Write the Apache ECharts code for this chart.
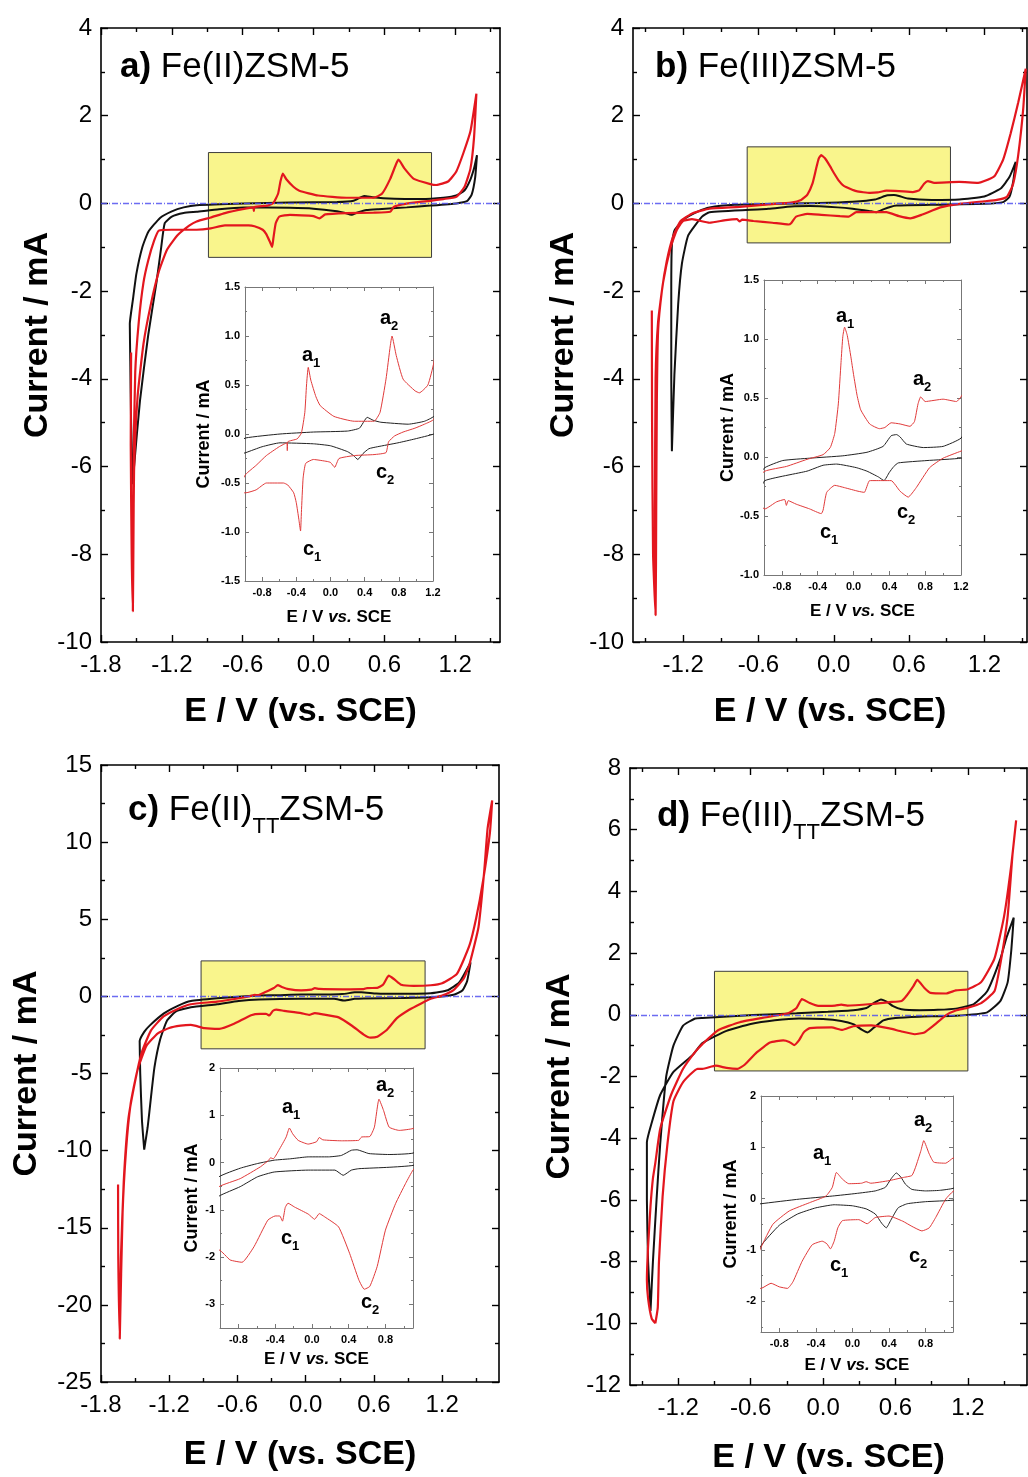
<!DOCTYPE html>
<html>
<head>
<meta charset="utf-8">
<title>Fe-ZSM-5 cyclic voltammograms</title>
<script src="https://cdn.jsdelivr.net/npm/echarts@6/dist/echarts.min.js"></script>
<style>
  html, body { margin: 0; padding: 0; background: #fff; }
  #cv { width: 1028px; height: 1477px; }
</style>
</head>
<body>
<div id="cv"></div>
<script>
// ---- data: [E / V vs SCE, I / mA], each loop split in anodic and cathodic branch ----

// a) Fe(II)ZSM-5
const aRedAnodic = [[-1.545, -3.4], [-1.548, -5.5], [-1.54, -8.0], [-1.53, -9.3], [-1.525, -7.6], [-1.52, -6.1], [-1.49, -4.4], [-1.44, -3.2], [-1.38, -2.33], [-1.31, -1.55], [-1.24, -1.05], [-1.15, -0.72], [-1.05, -0.5], [-0.99, -0.41], [-0.87, -0.32], [-0.75, -0.22], [-0.6, -0.13], [-0.51, -0.09], [-0.505, -0.17], [-0.5, -0.08], [-0.39, -0.05], [-0.34, 0.01], [-0.3, 0.22], [-0.28, 0.5], [-0.26, 0.68], [-0.23, 0.55], [-0.17, 0.38], [-0.12, 0.29], [0.04, 0.18], [0.28, 0.13], [0.51, 0.13], [0.58, 0.22], [0.65, 0.56], [0.7, 0.9], [0.72, 1.0], [0.77, 0.8], [0.85, 0.56], [0.99, 0.44], [1.04, 0.42], [1.14, 0.5], [1.21, 0.73], [1.27, 1.15], [1.33, 1.65], [1.38, 2.5]]
const aRedCathodic = [[1.38, 2.5], [1.36, 1.5], [1.33, 0.8], [1.28, 0.38], [1.21, 0.15], [1.1, 0.1], [0.99, 0.06], [0.85, 0.02], [0.75, -0.02], [0.68, -0.08], [0.65, -0.19], [0.51, -0.21], [0.28, -0.22], [0.1, -0.25], [0.05, -0.34], [0.0, -0.29], [-0.04, -0.28], [-0.2, -0.26], [-0.29, -0.3], [-0.32, -0.45], [-0.34, -0.8], [-0.35, -0.99], [-0.37, -0.87], [-0.4, -0.7], [-0.43, -0.6], [-0.5, -0.52], [-0.55, -0.5], [-0.75, -0.5], [-0.87, -0.57], [-0.99, -0.6], [-1.2, -0.6], [-1.31, -0.62], [-1.35, -0.85], [-1.4, -1.3], [-1.44, -1.8], [-1.48, -2.7], [-1.51, -3.85], [-1.525, -6.0], [-1.53, -9.3]]
const aBlackAnodic = [[-1.53, -6.4], [-1.545, -5.0], [-1.552, -3.6], [-1.556, -2.75], [-1.53, -2.2], [-1.5, -1.6], [-1.45, -1.0], [-1.4, -0.65], [-1.3, -0.33], [-1.2, -0.18], [-1.1, -0.09], [-0.99, -0.04], [-0.59, 0.0], [-0.2, 0.02], [0.2, 0.03], [0.34, 0.06], [0.43, 0.17], [0.5, 0.14], [0.59, 0.12], [0.91, 0.1], [1.1, 0.13], [1.21, 0.18], [1.28, 0.3], [1.33, 0.55], [1.36, 0.8], [1.385, 1.1]]
const aBlackCathodic = [[1.385, 1.1], [1.37, 0.6], [1.34, 0.2], [1.3, 0.05], [1.21, 0.0], [0.99, -0.05], [0.79, -0.09], [0.55, -0.13], [0.45, -0.15], [0.38, -0.2], [0.32, -0.26], [0.27, -0.22], [0.2, -0.18], [0.0, -0.12], [-0.2, -0.1], [-0.59, -0.09], [-0.8, -0.13], [-0.99, -0.19], [-1.1, -0.22], [-1.2, -0.3], [-1.26, -0.45], [-1.29, -1.0], [-1.33, -1.8], [-1.4, -3.0], [-1.47, -4.5], [-1.52, -6.0], [-1.53, -6.4]]

// b) Fe(III)ZSM-5
const bRedAnodic = [[-1.45, -2.44], [-1.448, -5.0], [-1.44, -8.0], [-1.42, -9.39], [-1.415, -7.0], [-1.41, -4.5], [-1.4, -2.9], [-1.37, -2.0], [-1.33, -1.3], [-1.28, -0.75], [-1.22, -0.4], [-1.12, -0.22], [-0.99, -0.12], [-0.75, -0.08], [-0.52, -0.02], [-0.34, 0.02], [-0.26, 0.08], [-0.21, 0.2], [-0.17, 0.45], [-0.14, 0.8], [-0.12, 1.02], [-0.1, 1.1], [-0.07, 1.03], [-0.03, 0.85], [0.0, 0.7], [0.04, 0.52], [0.08, 0.4], [0.18, 0.28], [0.29, 0.24], [0.35, 0.25], [0.42, 0.29], [0.52, 0.28], [0.63, 0.26], [0.68, 0.3], [0.72, 0.45], [0.75, 0.51], [0.8, 0.47], [1.0, 0.49], [1.15, 0.47], [1.2, 0.51], [1.28, 0.62], [1.35, 1.0], [1.41, 1.6], [1.47, 2.3], [1.53, 3.07]]
const bRedCathodic = [[1.53, 3.07], [1.51, 2.16], [1.47, 1.1], [1.43, 0.45], [1.38, 0.15], [1.3, 0.08], [1.2, 0.05], [1.0, -0.01], [0.85, -0.09], [0.7, -0.26], [0.61, -0.34], [0.52, -0.29], [0.42, -0.2], [0.33, -0.2], [0.18, -0.2], [0.12, -0.3], [0.05, -0.29], [-0.1, -0.26], [-0.21, -0.24], [-0.3, -0.3], [-0.34, -0.45], [-0.36, -0.48], [-0.49, -0.44], [-0.64, -0.4], [-0.73, -0.37], [-0.75, -0.41], [-0.77, -0.36], [-0.86, -0.38], [-0.99, -0.44], [-1.13, -0.36], [-1.2, -0.4], [-1.25, -0.6], [-1.3, -1.0], [-1.36, -1.8], [-1.4, -2.7], [-1.42, -4.0], [-1.425, -7.0], [-1.42, -9.39]]
const bBlackAnodic = [[-1.29, -5.65], [-1.295, -4.0], [-1.295, -2.0], [-1.29, -0.94], [-1.27, -0.62], [-1.19, -0.35], [-1.08, -0.18], [-0.99, -0.09], [-0.79, -0.03], [-0.49, -0.01], [-0.12, 0.01], [0.15, 0.04], [0.33, 0.09], [0.42, 0.18], [0.48, 0.19], [0.52, 0.17], [0.59, 0.11], [0.78, 0.08], [1.0, 0.09], [1.2, 0.16], [1.33, 0.34], [1.4, 0.6], [1.45, 0.95]]
const bBlackCathodic = [[1.45, 0.95], [1.43, 0.5], [1.4, 0.15], [1.35, 0.03], [1.2, -0.01], [0.82, -0.03], [0.5, -0.05], [0.45, -0.08], [0.4, -0.13], [0.34, -0.2], [0.28, -0.17], [0.15, -0.12], [0.03, -0.09], [-0.19, -0.06], [-0.34, -0.07], [-0.52, -0.12], [-0.99, -0.2], [-1.05, -0.3], [-1.16, -0.73], [-1.21, -1.37], [-1.24, -2.3], [-1.27, -3.9], [-1.29, -5.65]]

// c) Fe(II)TT ZSM-5
const cRedAnodic = [[-1.65, -12.2], [-1.648, -17.0], [-1.635, -22.2], [-1.625, -17.0], [-1.6, -12.0], [-1.56, -8.0], [-1.5, -5.5], [-1.44, -3.6], [-1.36, -2.2], [-1.25, -1.3], [-1.12, -0.8], [-1.01, -0.51], [-0.78, -0.34], [-0.56, -0.09], [-0.47, 0.05], [-0.45, 0.1], [-0.42, 0.08], [-0.36, 0.26], [-0.28, 0.54], [-0.245, 0.73], [-0.21, 0.61], [-0.15, 0.47], [-0.04, 0.39], [0.05, 0.44], [0.08, 0.53], [0.12, 0.48], [0.32, 0.46], [0.51, 0.47], [0.54, 0.54], [0.63, 0.55], [0.68, 0.75], [0.73, 1.34], [0.78, 1.1], [0.84, 0.75], [0.95, 0.68], [1.1, 0.72], [1.2, 0.85], [1.33, 1.46], [1.44, 3.3], [1.5, 5.1], [1.56, 7.5], [1.62, 10.6], [1.64, 12.7]]
const cRedCathodic = [[1.64, 12.7], [1.6, 10.9], [1.57, 8.1], [1.52, 4.5], [1.44, 2.07], [1.39, 1.16], [1.3, 0.4], [1.2, 0.05], [1.1, -0.16], [1.02, -0.44], [0.91, -0.87], [0.8, -1.43], [0.71, -2.2], [0.63, -2.62], [0.57, -2.68], [0.51, -2.48], [0.41, -1.92], [0.29, -1.36], [0.14, -1.15], [0.08, -1.08], [0.03, -1.2], [-0.04, -1.09], [-0.19, -0.94], [-0.26, -0.86], [-0.29, -0.95], [-0.32, -1.24], [-0.35, -1.13], [-0.4, -1.13], [-0.48, -1.22], [-0.63, -1.78], [-0.76, -2.11], [-0.89, -2.06], [-1.01, -1.85], [-1.1, -1.9], [-1.2, -2.05], [-1.3, -2.4], [-1.4, -3.2], [-1.48, -4.8], [-1.54, -7.0], [-1.58, -10.0], [-1.61, -14.0], [-1.635, -22.2]]
const cBlackAnodic = [[-1.42, -9.94], [-1.44, -8.0], [-1.455, -5.0], [-1.46, -2.9], [-1.42, -2.3], [-1.37, -1.88], [-1.25, -1.12], [-1.12, -0.6], [-1.01, -0.3], [-0.78, -0.12], [-0.59, -0.02], [-0.41, 0.05], [-0.23, 0.08], [-0.04, 0.12], [0.18, 0.12], [0.32, 0.15], [0.43, 0.26], [0.49, 0.27], [0.62, 0.19], [0.84, 0.17], [1.1, 0.2], [1.25, 0.4], [1.35, 0.9], [1.45, 2.2]]
const cBlackCathodic = [[1.45, 2.2], [1.42, 1.0], [1.38, 0.4], [1.3, 0.1], [1.1, -0.06], [0.84, -0.1], [0.51, -0.13], [0.43, -0.16], [0.34, -0.27], [0.25, -0.16], [-0.04, -0.16], [-0.41, -0.2], [-0.59, -0.3], [-0.78, -0.51], [-1.01, -0.71], [-1.14, -0.97], [-1.22, -1.58], [-1.28, -2.8], [-1.33, -4.6], [-1.36, -6.5], [-1.39, -8.5], [-1.42, -9.94]]

// d) Fe(III)TT ZSM-5
const dRedAnodic = [[-1.39, -10.0], [-1.42, -9.85], [-1.45, -9.2], [-1.46, -8.6], [-1.45, -7.5], [-1.43, -6.2], [-1.41, -5.3], [-1.39, -4.8], [-1.35, -3.7], [-1.26, -2.6], [-1.16, -1.75], [-1.06, -1.2], [-1.0, -0.95], [-0.87, -0.5], [-0.69, -0.24], [-0.47, -0.08], [-0.29, 0.05], [-0.22, 0.22], [-0.175, 0.51], [-0.11, 0.38], [-0.04, 0.29], [0.1, 0.3], [0.15, 0.33], [0.2, 0.3], [0.4, 0.35], [0.55, 0.41], [0.65, 0.45], [0.69, 0.61], [0.75, 0.94], [0.78, 1.13], [0.84, 0.87], [0.89, 0.71], [1.02, 0.69], [1.1, 0.79], [1.2, 0.83], [1.31, 1.06], [1.42, 1.82], [1.5, 3.19], [1.56, 4.86], [1.6, 6.3]]
const dRedCathodic = [[1.6, 6.3], [1.57, 5.2], [1.53, 3.2], [1.47, 1.67], [1.42, 0.76], [1.31, 0.38], [1.2, 0.23], [1.1, 0.14], [1.02, -0.01], [0.91, -0.37], [0.84, -0.57], [0.76, -0.63], [0.65, -0.54], [0.55, -0.44], [0.4, -0.34], [0.25, -0.37], [0.16, -0.49], [0.07, -0.41], [-0.11, -0.43], [-0.16, -0.57], [-0.2, -0.83], [-0.24, -0.98], [-0.28, -0.88], [-0.33, -0.83], [-0.44, -0.9], [-0.55, -1.22], [-0.65, -1.62], [-0.71, -1.75], [-0.8, -1.72], [-0.89, -1.65], [-1.0, -1.75], [-1.04, -1.75], [-1.16, -2.18], [-1.24, -2.8], [-1.29, -4.2], [-1.33, -5.9], [-1.36, -8.0], [-1.37, -9.5], [-1.39, -10.0]]
const dBlackAnodic = [[-1.43, -9.6], [-1.41, -8.0], [-1.38, -6.0], [-1.35, -4.2], [-1.3, -2.0], [-1.24, -1.0], [-1.16, -0.35], [-1.06, -0.12], [-1.0, -0.1], [-0.58, -0.01], [-0.22, 0.05], [0.04, 0.1], [0.25, 0.15], [0.36, 0.22], [0.42, 0.38], [0.48, 0.5], [0.53, 0.42], [0.58, 0.28], [0.65, 0.18], [0.8, 0.15], [0.95, 0.16], [1.1, 0.2], [1.25, 0.35], [1.36, 0.76], [1.47, 1.82], [1.52, 2.5], [1.58, 3.15]]
const dBlackCathodic = [[1.58, 3.15], [1.56, 2.1], [1.53, 1.06], [1.47, 0.45], [1.36, 0.08], [1.1, -0.03], [0.8, -0.06], [0.6, -0.1], [0.5, -0.18], [0.42, -0.42], [0.37, -0.57], [0.32, -0.48], [0.25, -0.3], [0.15, -0.2], [0.0, -0.14], [-0.2, -0.12], [-0.4, -0.18], [-0.6, -0.3], [-0.8, -0.52], [-1.0, -0.92], [-1.08, -1.3], [-1.24, -1.85], [-1.35, -2.6], [-1.42, -3.5], [-1.46, -4.13], [-1.46, -6.0], [-1.45, -8.0], [-1.43, -9.6]]

// highlighted window of each main plot: [E1, I1, E2, I2]
const aWindow = [-0.89, 1.16, 1.0, -1.23]
const bWindow = [-0.69, 1.29, 0.93, -0.9]
const cWindow = [-0.92, 2.3, 1.05, -3.4]
const dWindow = [-0.9, 1.41, 1.2, -1.82]

// tick values
const xTicksLong = [-1.8, -1.2, -0.6, 0, 0.6, 1.2]
const xTicksShort = [-1.2, -0.6, 0, 0.6, 1.2]
const xMinorMain = [-1.5, -0.9, -0.3, 0.3, 0.9, 1.5]
const yTicksAB = [-10, -8, -6, -4, -2, 0, 2, 4]
const yMinorAB = [-9, -7, -5, -3, -1, 1, 3]
const yTicksC = [-25, -20, -15, -10, -5, 0, 5, 10, 15]
const yMinorC = [-22.5, -17.5, -12.5, -7.5, -2.5, 2.5, 7.5, 12.5]
const yTicksD = [-12, -10, -8, -6, -4, -2, 0, 2, 4, 6, 8]
const yMinorD = [-11, -9, -7, -5, -3, -1, 1, 3, 5, 7]
const insXTicksAB = [-0.8, -0.4, 0, 0.4, 0.8, 1.2]
const insXTicksCD = [-0.8, -0.4, 0, 0.4, 0.8]
const insXMinor = [-0.6, -0.2, 0.2, 0.6, 1.0]
const insYTicksA = [-1.5, -1, -0.5, 0, 0.5, 1, 1.5]
const insYMinorA = [-1.25, -0.75, -0.25, 0.25, 0.75, 1.25]
const insYTicksB = [-1, -0.5, 0, 0.5, 1, 1.5]
const insYMinorB = [-0.75, -0.25, 0.25, 0.75, 1.25]
const insYTicksC = [-3, -2, -1, 0, 1, 2]
const insYTicksD = [-2, -1, 0, 1, 2]
const insYMinorCD = [-2.5, -1.5, -0.5, 0.5, 1.5]

// ---- chart ----
const FONT = '"Liberation Sans", Arial, Helvetica, sans-serif'
const RED = '#e3161e'
const BLACK = '#111111'
const fmt1 = v => v.toFixed(1)
const fmt0 = v => String(v)

const grids = []
const xAxes = []
const yAxes = []
const series = []
const graphics = []

const mainStyle = {
  white: false, color: '#000', lw: 1.6, tw: 1.4, major: 7, minor: 4,
  labelSize: 24, labelWeight: 'normal', xFmt: fmt1, yFmt: fmt0, xMargin: 11, yMargin: 9,
  xName: 'E / V (vs. SCE)', yName: 'Current / mA',
  xNameStyle: { color: '#000', fontFamily: FONT, fontSize: 34, fontWeight: 'bold' },
  yNameStyle: { color: '#000', fontFamily: FONT, fontSize: 34, fontWeight: 'bold' }
}
const insetStyle = {
  white: true, color: '#777', lw: 1, tw: 1, major: 4, minor: 2,
  labelSize: 11, labelWeight: 'bold', xFmt: fmt1, xMargin: 6, yMargin: 5,
  xName: 'E / V {i|vs.} SCE', yName: 'Current / mA',
  xNameStyle: { color: '#000', fontFamily: FONT, fontSize: 17, fontWeight: 'bold', rich: { i: { color: '#000', fontFamily: FONT, fontSize: 17, fontWeight: 'bold', fontStyle: 'italic' } } },
  yNameStyle: { color: '#000', fontFamily: FONT, fontSize: 18, fontWeight: 'bold' }
}

// one framed box: 4 axes for major ticks (+labels) and 4 for minor ticks
function addFrame (f) {
  const gi = grids.length
  grids.push({ left: f.left, top: f.top, width: f.width, height: f.height, show: f.white, backgroundColor: '#fff', borderWidth: 0, containLabel: false, outerBoundsMode: 'none' })
  const line = { show: true, onZero: false, lineStyle: { color: f.color, width: f.lw } }
  const noLine = { show: false, onZero: false }
  const noLabel = { show: false }
  const tick = (vals, len) => ({ show: true, inside: true, length: len, customValues: vals, lineStyle: { color: f.color, width: f.tw } })
  const label = (vals, fmt, margin) => ({ show: true, customValues: vals, formatter: fmt, margin: margin, color: '#000', fontFamily: FONT, fontSize: f.labelSize, fontWeight: f.labelWeight })
  const base = { type: 'value', gridIndex: gi, splitLine: { show: false }, silent: true }
  const xb = Object.assign({ min: f.xmin, max: f.xmax }, base)
  const yb = Object.assign({ min: f.ymin, max: f.ymax }, base)
  const xi = xAxes.length
  const yi = yAxes.length
  xAxes.push(Object.assign({}, xb, { position: 'bottom', axisLine: line, axisTick: tick(f.xTicks, f.major), axisLabel: label(f.xTicks, f.xFmt, f.xMargin), name: f.xName, nameLocation: 'middle', nameGap: f.xGap, nameTextStyle: f.xNameStyle, nameMoveOverlap: false }))
  xAxes.push(Object.assign({}, xb, { position: 'bottom', axisLine: noLine, axisTick: tick(f.xMinor, f.minor), axisLabel: noLabel }))
  xAxes.push(Object.assign({}, xb, { position: 'top', axisLine: line, axisTick: tick(f.xTicks, f.major), axisLabel: noLabel }))
  xAxes.push(Object.assign({}, xb, { position: 'top', axisLine: noLine, axisTick: tick(f.xMinor, f.minor), axisLabel: noLabel }))
  yAxes.push(Object.assign({}, yb, { position: 'left', axisLine: line, axisTick: tick(f.yTicks, f.major), axisLabel: label(f.yTicks, f.yFmt, f.yMargin), name: f.yName, nameLocation: 'middle', nameGap: f.yGap, nameTextStyle: f.yNameStyle, nameMoveOverlap: false }))
  yAxes.push(Object.assign({}, yb, { position: 'left', axisLine: noLine, axisTick: tick(f.yMinor, f.minor), axisLabel: noLabel }))
  yAxes.push(Object.assign({}, yb, { position: 'right', axisLine: line, axisTick: tick(f.yTicks, f.major), axisLabel: noLabel }))
  yAxes.push(Object.assign({}, yb, { position: 'right', axisLine: noLine, axisTick: tick(f.yMinor, f.minor), axisLabel: noLabel }))
  return { xi: xi, yi: yi }
}

function addCurve (ax, data, color, width, z) {
  series.push({
    type: 'line', xAxisIndex: ax.xi, yAxisIndex: ax.yi, data: data,
    symbol: 'none', showSymbol: false, smooth: 0.15, clip: true, z: z,
    silent: true, animation: false, lineStyle: { color: color, width: width }
  })
}

function addPanel (p) {
  const m = addFrame(Object.assign({}, mainStyle, p.main))
  const w = p.window
  series.push({
    type: 'line', xAxisIndex: m.xi, yAxisIndex: m.yi, data: [], z: 1, silent: true,
    markArea: { silent: true, itemStyle: { color: '#f9f58c', borderColor: '#3c3c3c', borderWidth: 1 }, data: [[{ coord: [w[0], w[1]] }, { coord: [w[2], w[3]] }]] },
    markLine: { silent: true, symbol: ['none', 'none'], label: { show: false }, lineStyle: { color: '#5252f0', width: 1.3, opacity: 0.85, type: [6, 2, 1, 2] }, data: [{ yAxis: 0 }] }
  })
  addCurve(m, p.black, BLACK, 2, 3)
  addCurve(m, p.red, RED, 2.2, 4)
  const s = addFrame(Object.assign({}, insetStyle, p.inset))
  addCurve(s, p.black, '#222', 1, 5)
  addCurve(s, p.red, '#e03a3a', 1, 6)
}

addPanel({
  main: { left: 101, top: 28, width: 399, height: 614, xmin: -1.8, xmax: 1.58, ymin: -10, ymax: 4, xTicks: xTicksLong, xMinor: xMinorMain, yTicks: yTicksAB, yMinor: yMinorAB, xGap: 53, yGap: 46 },
  inset: { left: 245, top: 287, width: 188, height: 294, xmin: -1.0, xmax: 1.2, ymin: -1.5, ymax: 1.5, xTicks: insXTicksAB, xMinor: insXMinor, yTicks: insYTicksA, yMinor: insYMinorA, yFmt: fmt1, xGap: 28, yGap: 32 },
  window: aWindow,
  red: aRedAnodic.concat(aRedCathodic),
  black: aBlackAnodic.concat(aBlackCathodic)
})
addPanel({
  main: { left: 633, top: 28, width: 394, height: 614, xmin: -1.6, xmax: 1.54, ymin: -10, ymax: 4, xTicks: xTicksShort, xMinor: xMinorMain, yTicks: yTicksAB, yMinor: yMinorAB, xGap: 53, yGap: 52 },
  inset: { left: 764, top: 280, width: 197, height: 295, xmin: -1.0, xmax: 1.2, ymin: -1.0, ymax: 1.5, xTicks: insXTicksAB, xMinor: insXMinor, yTicks: insYTicksB, yMinor: insYMinorB, yFmt: fmt1, xGap: 28, yGap: 27 },
  window: bWindow,
  red: bRedAnodic.concat(bRedCathodic),
  black: bBlackAnodic.concat(bBlackCathodic)
})
addPanel({
  main: { left: 101, top: 765, width: 398, height: 617, xmin: -1.8, xmax: 1.7, ymin: -25, ymax: 15, xTicks: xTicksLong, xMinor: xMinorMain, yTicks: yTicksC, yMinor: yMinorC, xGap: 56, yGap: 57 },
  inset: { left: 220, top: 1068, width: 193, height: 260, xmin: -1.0, xmax: 1.1, ymin: -3.5, ymax: 2, xTicks: insXTicksCD, xMinor: insXMinor, yTicks: insYTicksC, yMinor: insYMinorCD, yFmt: fmt0, xGap: 23, yGap: 19 },
  window: cWindow,
  red: cRedAnodic.concat(cRedCathodic),
  black: cBlackAnodic.concat(cBlackCathodic)
})
addPanel({
  main: { left: 630, top: 768, width: 397, height: 617, xmin: -1.6, xmax: 1.69, ymin: -12, ymax: 8, xTicks: xTicksShort, xMinor: xMinorMain, yTicks: yTicksD, yMinor: yMinorD, xGap: 56, yGap: 53 },
  inset: { left: 761, top: 1096, width: 192, height: 236, xmin: -1.0, xmax: 1.1, ymin: -2.6, ymax: 2, xTicks: insXTicksCD, xMinor: insXMinor, yTicks: insYTicksD, yMinor: insYMinorCD, yFmt: fmt0, xGap: 25, yGap: 21 },
  window: dWindow,
  red: dRedAnodic.concat(dRedCathodic),
  black: dBlackAnodic.concat(dBlackCathodic)
})

// panel titles
const titleRich = {
  b: { fontFamily: FONT, fontSize: 35, fontWeight: 'bold', lineHeight: 56, fill: '#000' },
  r: { fontFamily: FONT, fontSize: 35, fontWeight: 'normal', lineHeight: 56, fill: '#000' },
  s: { fontFamily: FONT, fontSize: 22, fontWeight: 'normal', lineHeight: 22, verticalAlign: 'bottom', fill: '#000' }
}
function addText (x, y, text, rich, size) {
  graphics.push({
    type: 'text', x: x, y: y, silent: true, z: 100,
    style: { text: text, rich: rich, fontFamily: FONT, fontSize: size, fill: '#000', align: 'left', verticalAlign: 'middle', textAlign: 'left', textVerticalAlign: 'middle' }
  })
}
addText(120, 67, '{b|a)} {r|Fe(II)ZSM-5}', titleRich, 35)
addText(655, 67, '{b|b)} {r|Fe(III)ZSM-5}', titleRich, 35)
addText(128, 810, '{b|c)} {r|Fe(II)}{s|TT}{r|ZSM-5}', titleRich, 35)
addText(657, 816, '{b|d)} {r|Fe(III)}{s|TT}{r|ZSM-5}', titleRich, 35)

// peak labels in the insets
const peakRich = {
  m: { fontFamily: FONT, fontSize: 20, fontWeight: 'bold', lineHeight: 30, fill: '#000' },
  s: { fontFamily: FONT, fontSize: 13, fontWeight: 'bold', lineHeight: 13, verticalAlign: 'bottom', fill: '#000' }
}
const peakPlaces = [
  ['a', '1', 302, 355], ['a', '2', 380, 318], ['c', '1', 303, 549], ['c', '2', 376, 472],
  ['a', '1', 836, 316], ['a', '2', 913, 379], ['c', '1', 820, 532], ['c', '2', 897, 512],
  ['a', '1', 282, 1107], ['a', '2', 376, 1085], ['c', '1', 281, 1238], ['c', '2', 361, 1302],
  ['a', '1', 813, 1153], ['a', '2', 914, 1120], ['c', '1', 830, 1265], ['c', '2', 909, 1256]
]
peakPlaces.forEach(function (p) {
  addText(p[2], p[3], '{m|' + p[0] + '}{s|' + p[1] + '}', peakRich, 20)
})

const chart = echarts.init(document.getElementById('cv'))
chart.setOption({
  animation: false,
  backgroundColor: '#fff',
  grid: grids,
  xAxis: xAxes,
  yAxis: yAxes,
  series: series,
  graphic: graphics
})
</script>
</body>
</html>
